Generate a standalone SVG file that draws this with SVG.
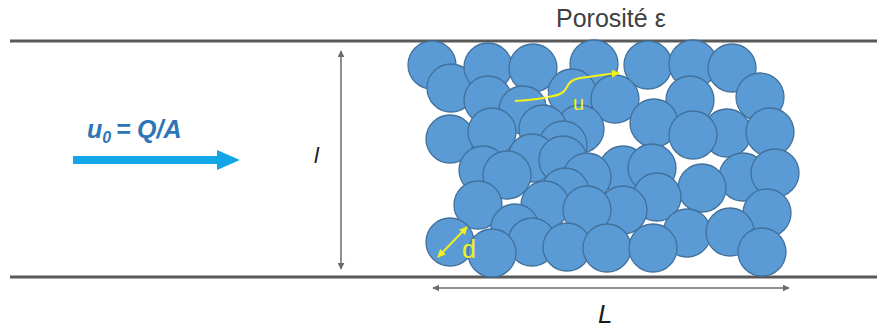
<svg xmlns="http://www.w3.org/2000/svg" width="877" height="329" viewBox="0 0 877 329">
  <style>
    .wall { stroke: #595959; stroke-width: 3; fill: none; }
    .dim { stroke: #6b6b6b; stroke-width: 1.5; fill: none; }
    .bead { fill: #5b9bd5; stroke: #41719c; stroke-width: 1.3; }
    .yl { stroke: #f2f21a; stroke-width: 2; fill: none; }
    .lbl { font-family: "Liberation Sans", Arial, sans-serif; }
  </style>
  <defs>
    <marker id="dimHead" viewBox="0 0 10 10" refX="9" refY="5" markerWidth="7" markerHeight="7" orient="auto-start-reverse" markerUnits="userSpaceOnUse">
      <path d="M0,0 L10,5 L0,10 Z" fill="#6b6b6b"/>
    </marker>
    <marker id="yHead" viewBox="0 0 10 10" refX="9" refY="5" markerWidth="8" markerHeight="8" orient="auto-start-reverse" markerUnits="userSpaceOnUse">
      <path d="M0,0 L10,5 L0,10 Z" fill="#f2f21a"/>
    </marker>
  </defs>

  <rect width="877" height="329" fill="#ffffff"/>

  <!-- channel walls -->
  <g id="walls">
    <line class="wall" x1="10" y1="41" x2="877" y2="41"/>
    <line class="wall" x1="10" y1="277" x2="877" y2="277"/>
  </g>

  <!-- porous bed of spherical grains -->
  <g id="bed">
    <circle class="bead" cx="432" cy="65" r="24"/>
    <circle class="bead" cx="594" cy="64" r="24"/>
    <circle class="bead" cx="451" cy="88" r="24"/>
    <circle class="bead" cx="488" cy="67" r="24"/>
    <circle class="bead" cx="533" cy="68" r="24"/>
    <circle class="bead" cx="648" cy="65" r="24"/>
    <circle class="bead" cx="693" cy="64" r="24"/>
    <circle class="bead" cx="732" cy="68" r="24"/>
    <circle class="bead" cx="488" cy="100" r="24"/>
    <circle class="bead" cx="572" cy="93" r="24"/>
    <circle class="bead" cx="523" cy="110" r="24"/>
    <circle class="bead" cx="615" cy="99" r="24"/>
    <circle class="bead" cx="690" cy="100" r="24"/>
    <circle class="bead" cx="760" cy="97" r="24"/>
    <circle class="bead" cx="450" cy="139" r="24"/>
    <circle class="bead" cx="492" cy="132" r="24"/>
    <circle class="bead" cx="580" cy="129" r="24"/>
    <circle class="bead" cx="543" cy="129" r="24"/>
    <circle class="bead" cx="654" cy="123" r="24"/>
    <circle class="bead" cx="727" cy="133" r="24"/>
    <circle class="bead" cx="693" cy="135" r="24"/>
    <circle class="bead" cx="770" cy="132" r="24"/>
    <circle class="bead" cx="563" cy="145" r="24"/>
    <circle class="bead" cx="532" cy="158" r="24"/>
    <circle class="bead" cx="483" cy="170" r="24"/>
    <circle class="bead" cx="507" cy="175" r="24"/>
    <circle class="bead" cx="563" cy="160" r="24"/>
    <circle class="bead" cx="623" cy="170" r="24"/>
    <circle class="bead" cx="587" cy="177" r="24"/>
    <circle class="bead" cx="652" cy="168" r="24"/>
    <circle class="bead" cx="743" cy="177" r="24"/>
    <circle class="bead" cx="775" cy="173" r="24"/>
    <circle class="bead" cx="702" cy="188" r="24"/>
    <circle class="bead" cx="565" cy="192" r="24"/>
    <circle class="bead" cx="657" cy="197" r="24"/>
    <circle class="bead" cx="478" cy="205" r="24"/>
    <circle class="bead" cx="545" cy="205" r="24"/>
    <circle class="bead" cx="623" cy="210" r="24"/>
    <circle class="bead" cx="587" cy="210" r="24"/>
    <circle class="bead" cx="767" cy="213" r="24"/>
    <circle class="bead" cx="515" cy="228" r="24"/>
    <circle class="bead" cx="687" cy="233" r="24"/>
    <circle class="bead" cx="730" cy="232" r="24"/>
    <circle class="bead" cx="450" cy="242" r="24"/>
    <circle class="bead" cx="532" cy="242" r="24"/>
    <circle class="bead" cx="492" cy="253" r="24"/>
    <circle class="bead" cx="567" cy="247" r="24"/>
    <circle class="bead" cx="607" cy="248" r="24"/>
    <circle class="bead" cx="653" cy="248" r="24"/>
    <circle class="bead" cx="762" cy="252" r="24"/>
  </g>

  <!-- connectors: flow arrow, dimension arrows, local velocity and grain size -->
  <g id="connectors">
    <path d="M73,156 H217 V150 L240,160 L217,170 V164 H73 Z" fill="#12a6e6"/>
    <line class="dim" x1="341" y1="51" x2="341" y2="269" marker-start="url(#dimHead)" marker-end="url(#dimHead)"/>
    <line class="dim" x1="433" y1="288" x2="789" y2="288" marker-start="url(#dimHead)" marker-end="url(#dimHead)"/>
    <path class="yl" d="M515,101 C530,100 540,99 548,97 C560,95 564,93 567,87 C570,80 576,78 588,77 C598,76 606,74 619,73" marker-end="url(#yHead)"/>
    <line x1="547" y1="91" x2="547" y2="104" stroke="#ffffff" stroke-width="1.5"/>
    <line class="yl" x1="438" y1="257" x2="467" y2="227" stroke-width="1.5" marker-start="url(#yHead)" marker-end="url(#yHead)"/>
  </g>

  <!-- labels -->
  <g id="labels" class="lbl">
    <text x="556" y="27" font-size="25" fill="#404040">Porosité ε</text>
    <text x="87" y="138" font-size="25" font-weight="bold" font-style="italic" fill="#2e75b6">u<tspan font-size="16" dy="5">0</tspan><tspan dy="-5" x="116">=</tspan><tspan x="137">Q/A</tspan></text>
    <text x="314" y="163" font-size="22" font-style="italic" fill="#1a1a1a">l</text>
    <text x="598" y="323" font-size="26" font-style="italic" fill="#1a1a1a">L</text>
    <text x="573" y="110" font-size="20" fill="#f2f21a">u</text>
    <text x="462" y="258" font-size="25" fill="#f2f21a">d</text>
  </g>
</svg>
